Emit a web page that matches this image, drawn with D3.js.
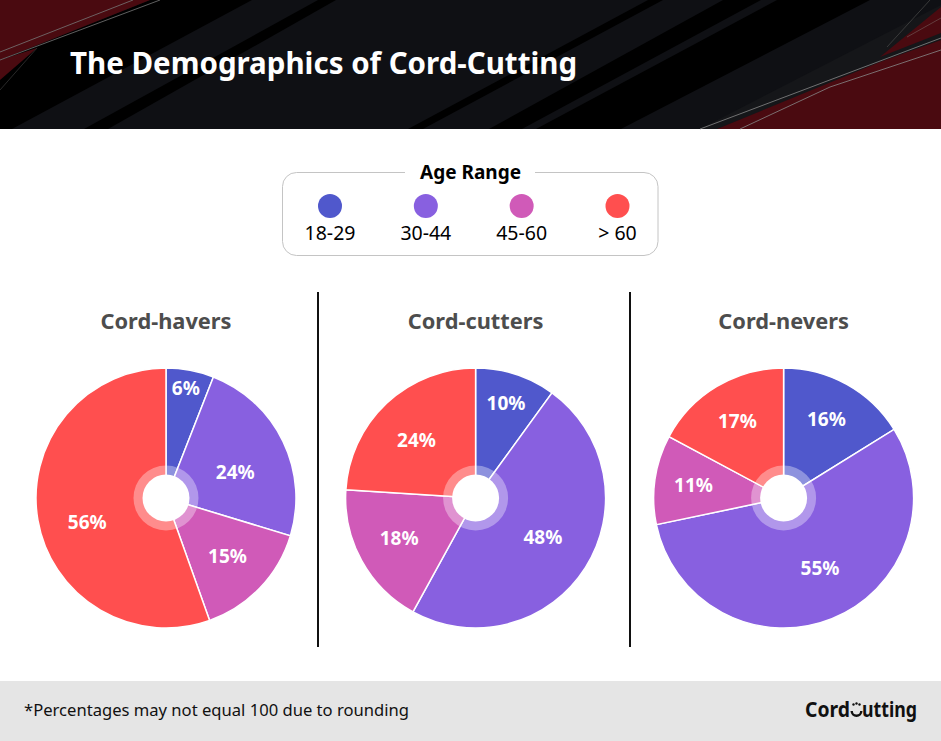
<!DOCTYPE html>
<html>
<head>
<meta charset="utf-8">
<script src="https://cdn.jsdelivr.net/npm/d3@7"></script>
<style>
  html, body { margin: 0; padding: 0; background: #fff; }
  svg { display: block; }
  text { font-family: "Noto Sans", "Open Sans", sans-serif; }
</style>
</head>
<body>
<script>
const ageRanges = ['18-29', '30-44', '45-60', '> 60'];
const ageColors = ['#5058cc', '#8860e0', '#d05ab8', '#ff4f4f'];

const groupNames = ['Cord-havers', 'Cord-cutters', 'Cord-nevers'];
const havers = [6, 24, 15, 56];
const cutters = [10, 48, 18, 24];
const nevers = [16, 55, 11, 17];

const width = 941, height = 741;

const svg = d3.select('body').append('svg')
  .attr('width', width)
  .attr('height', height);

// header
const header = svg.append('g');
header.append('rect').attr('width', width).attr('height', 129).attr('fill', '#0f1014');

// slightly lighter band above the red corner
header.append('polygon')
  .attr('points', '700,129 941,5 941,40 717,129')
  .attr('fill', '#151619');

const stripes = [
  [[150, 0], [252, 0], [12, 129], [0, 129], [0, 60]],
  [[318, 0], [336, 0], [108, 129], [84, 129]],
  [[648, 0], [663, 0], [423, 129], [408, 129]],
  [[723, 0], [761, 0], [522, 129], [489, 129]],
  [[777, 0], [870, 0], [621, 129], [536, 129]]
];
header.selectAll('polygon.stripe').data(stripes).join('polygon')
  .attr('class', 'stripe')
  .attr('points', d => d.join(' '))
  .attr('fill', '#000');

const reds = [
  [[0, 0], [150, 0], [0, 60]],
  [[0, 60], [37, 48], [0, 80]],
  [[717, 129], [880, 62], [941, 40], [941, 129]],
  [[880, 57], [941, 7], [941, 33]]
];
header.selectAll('polygon.red').data(reds).join('polygon')
  .attr('class', 'red')
  .attr('points', d => d.join(' '))
  .attr('fill', '#4a0a10');

const streaks = [
  [133, 0, 0, 52, '#777'],
  [160, 0, 0, 60, '#777'],
  [37, 48, 0, 90, '#333'],
  [700, 129, 941, 38, '#888'],
  [740, 129, 830, 87, '#888'],
  [830, 87, 941, 50, '#888'],
  [887, 47, 930, 0, '#444'],
  [907, 37, 941, 18, '#6a4a4a']
];
header.selectAll('line').data(streaks).join('line')
  .attr('x1', d => d[0]).attr('y1', d => d[1])
  .attr('x2', d => d[2]).attr('y2', d => d[3])
  .attr('stroke', d => d[4]).attr('stroke-width', 0.8);

header.append('text')
  .attr('x', 70).attr('y', 74)
  .attr('font-size', 29.5).attr('font-weight', 700)
  .attr('fill', '#fff')
  .text('The Demographics of Cord-Cutting');

// legend
const legend = svg.append('g');
legend.append('rect')
  .attr('x', 282.5).attr('y', 172.5)
  .attr('width', 375.5).attr('height', 83).attr('rx', 14)
  .attr('fill', '#fff').attr('stroke', '#c4c4c4');
legend.append('rect')
  .attr('x', 405).attr('y', 165).attr('width', 130).attr('height', 15).attr('fill', '#fff');
legend.append('text')
  .attr('x', 470.5).attr('y', 179)
  .attr('text-anchor', 'middle')
  .attr('font-size', 19).attr('font-weight', 700)
  .attr('fill', '#000')
  .text('Age Range');

const legendX = d3.scalePoint().domain(ageRanges).range([330, 617.5]);
const legendItem = legend.selectAll('g.item').data(ageRanges).join('g')
  .attr('class', 'item')
  .attr('transform', d => `translate(${legendX(d)},0)`);
legendItem.append('circle')
  .attr('cy', 206).attr('r', 12)
  .attr('fill', (d, i) => ageColors[i]);
legendItem.append('text')
  .attr('y', 240)
  .attr('text-anchor', 'middle')
  .attr('font-size', 19.5)
  .attr('fill', '#000')
  .text(d => d);

// pies
const pieCenters = [166, 475.6, 783.6];
const pieY = 498, pieR = 130;
const pie = d3.pie().sort(null);
const arc = d3.arc().innerRadius(0).outerRadius(pieR);

// labels were placed by hand in the original, so radius plus a small nudge
const labelRadii = [[112, 78, 85, 82], [92, 88, 85, 82], [88, 90, 88, 92]];
const labelNudge = [
  [[-1, 0], [-1, 8], [0, 0], [2, 10]],
  [[2, -7], [-7, -8], [-2, -1], [-3, 2]],
  [[0, -2], [3, -13], [-3, 0], [1, 2]]
];

[havers, cutters, nevers].forEach((values, k) => {
  const g = svg.append('g').attr('transform', `translate(${pieCenters[k]},${pieY})`);

  g.append('text')
    .attr('y', -169)
    .attr('text-anchor', 'middle')
    .attr('font-size', 21.8).attr('font-weight', 700)
    .attr('fill', '#4d4d4d')
    .text(groupNames[k]);

  const slices = pie(values);
  g.selectAll('path').data(slices).join('path')
    .attr('d', arc)
    .attr('fill', (d, i) => ageColors[i])
    .attr('stroke', '#fff')
    .attr('stroke-width', 1.5);

  g.append('circle').attr('r', 32.5).attr('fill', '#fff').attr('fill-opacity', 0.35);
  g.append('circle').attr('r', 23.5).attr('fill', '#fff');

  g.selectAll('text.pct').data(slices).join('text')
    .attr('class', 'pct')
    .attr('transform', (d, i) => {
      const r = labelRadii[k][i];
      const c = d3.arc().innerRadius(r).outerRadius(r).centroid(d);
      const n = labelNudge[k][i];
      return `translate(${c[0] + n[0]},${c[1] + n[1]})`;
    })
    .attr('text-anchor', 'middle')
    .attr('dy', '0.35em')
    .attr('font-size', 19).attr('font-weight', 700)
    .attr('fill', '#fff')
    .text(d => d.value + '%');
});

// dividers
svg.selectAll('line.divider').data([318, 630]).join('line')
  .attr('class', 'divider')
  .attr('x1', d => d).attr('x2', d => d)
  .attr('y1', 292).attr('y2', 647)
  .attr('stroke', '#111').attr('stroke-width', 2);

// footer
svg.append('rect').attr('y', 681).attr('width', width).attr('height', 60).attr('fill', '#e5e5e5');
svg.append('text')
  .attr('x', 24).attr('y', 716)
  .attr('font-size', 16.6)
  .attr('fill', '#111')
  .text('*Percentages may not equal 100 due to rounding');

// logo, the C of Cutting is a broken ring with dots
const logo = svg.append('g').attr('fill', '#111');
logo.append('text')
  .attr('x', 805).attr('y', 717)
  .attr('font-size', 22).attr('font-weight', 700)
  .attr('textLength', 45).attr('lengthAdjust', 'spacingAndGlyphs')
  .text('Cord');
logo.append('text')
  .attr('x', 862).attr('y', 717)
  .attr('font-size', 22).attr('font-weight', 700)
  .attr('textLength', 55).attr('lengthAdjust', 'spacingAndGlyphs')
  .text('utting');
logo.append('path')
  .attr('d', d3.arc().innerRadius(3.6).outerRadius(6).startAngle(Math.PI / 2).endAngle(Math.PI * 1.5)())
  .attr('transform', 'translate(856.5,711)');
logo.selectAll('circle').data([-3, 0, 3]).join('circle')
  .attr('cx', d => 856.5 + d)
  .attr('cy', d => (d === 0 ? 703.5 : 704.5))
  .attr('r', 1.2);
</script>
</body>
</html>
